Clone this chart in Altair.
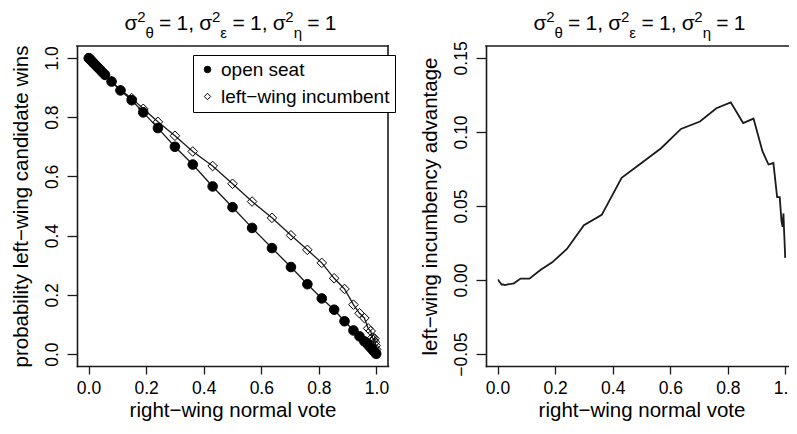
import altair as alt
import pandas as pd

# ---------------- data ----------------
x_vote = [0.001, 0.003, 0.006, 0.010, 0.014, 0.019, 0.025, 0.032, 0.040, 0.048,
          0.057, 0.080, 0.111, 0.150, 0.190, 0.241, 0.300, 0.362, 0.431, 0.500,
          0.568, 0.637, 0.703, 0.760, 0.810, 0.853, 0.889, 0.920, 0.941, 0.958,
          0.971, 0.980, 0.986, 0.990, 0.993, 0.995, 0.997, 0.999]
open_seat = [0.999, 0.997, 0.994, 0.990, 0.986, 0.981, 0.975, 0.968, 0.960, 0.952,
             0.943, 0.920, 0.890, 0.857, 0.816, 0.763, 0.700, 0.640, 0.566, 0.496,
             0.426, 0.358, 0.294, 0.236, 0.188, 0.150, 0.111, 0.080, 0.060, 0.043,
             0.031, 0.022, 0.016, 0.011, 0.008, 0.006, 0.004, 0.001]
incumbent = [0.999, 0.997, 0.993, 0.988, 0.983, 0.978, 0.972, 0.965, 0.957, 0.950,
             0.941, 0.921, 0.891, 0.864, 0.828, 0.784, 0.737, 0.684, 0.635, 0.575,
             0.515, 0.460, 0.401, 0.352, 0.308, 0.256, 0.220, 0.167, 0.138, 0.122,
             0.087, 0.078, 0.056, 0.047, 0.053, 0.040, 0.029, 0.016]
advantage = [0.000, 0.000, -0.001, -0.002, -0.003, -0.003, -0.0034, -0.003, -0.0027, -0.0025,
             -0.0022, 0.001, 0.001, 0.007, 0.012, 0.021, 0.037, 0.044, 0.069, 0.079,
             0.089, 0.102, 0.107, 0.116, 0.120, 0.106, 0.109, 0.087, 0.078, 0.079,
             0.056, 0.056, 0.040, 0.036, 0.045, 0.034, 0.025, 0.015]
series_names = ["open seat", "left\u2212wing incumbent"]
x_ticks = [0.0, 0.2, 0.4, 0.6, 0.8, 1.0]
y_ticks_left = [0.0, 0.2, 0.4, 0.6, 0.8, 1.0]
y_ticks_right = [-0.05, 0.0, 0.05, 0.10, 0.15]
x_title = "right\u2212wing normal vote"
y_title_left = "probability left\u2212wing candidate wins"
y_title_right = "left\u2212wing incumbency advantage"
title_tokens = [("σ", "main"), ("2", "sup"), ("θ", "sub"), (" ", "main"), ("=", "main"),
                (" ", "main"), ("1,", "main"), (" ", "main"),
                ("σ", "main"), ("2", "sup"), ("ε", "sub"), (" ", "main"), ("=", "main"),
                (" ", "main"), ("1,", "main"), (" ", "main"),
                ("σ", "main"), ("2", "sup"), ("η", "sub"), (" ", "main"), ("=", "main"),
                (" ", "main"), ("1", "main")]

# ---------------- layout / styling ----------------
FONT = "Liberation Sans"
INK = "#1a1a1a"
PW, PH = 311, 320          # one panel's plot area
RX = 409                   # left edge of the right panel inside the shared plot group
TOTAL_W = 712              # drawing group width (page is 797 wide, 8px margins)
LBL = 17.5
TTL = 20.5

df_left = pd.DataFrame({
    "x": x_vote * 2,
    "p": open_seat + incumbent,
    "series": [series_names[0]] * len(x_vote) + [series_names[1]] * len(x_vote),
})
df_right = pd.DataFrame({"x": x_vote, "adv": advantage})
one = pd.DataFrame({"k": [0]})


def x_axis():
    return alt.Axis(values=x_ticks, format=".1f", title=x_title, grid=False, orient="bottom",
                    tickSize=8, tickWidth=1.3, tickColor=INK, labelPadding=5,
                    minExtent=30.5, maxExtent=30.5, titlePadding=3.5,
                    labelFlush=False, labelOverlap=False,
                    domainColor=INK, domainWidth=1.6, domainCap="square",
                    labelFont=FONT, labelFontSize=LBL, labelColor="black",
                    titleFont=FONT, titleFontSize=TTL, titleFontWeight="normal",
                    titleColor="black")


def y_axis(values, fmt, title, offset):
    return alt.Axis(values=values, format=fmt, title=title, grid=False, orient="left",
                    offset=offset,
                    tickSize=10, tickWidth=1.3, tickColor=INK, labelPadding=6,
                    labelAngle=270, labelAlign="center", labelBaseline="bottom",
                    minExtent=34, maxExtent=34, titlePadding=12,
                    labelFlush=False, labelOverlap=False,
                    domainColor=INK, domainWidth=1.6, domainCap="square",
                    labelFont=FONT, labelFontSize=LBL, labelColor="black",
                    titleFont=FONT, titleFontSize=TTL, titleFontWeight="normal",
                    titleColor="black")


char_w = {"σ": 0.60, "θ": 0.556, "ε": 0.46, "η": 0.556, "2": 0.556, "1": 0.556,
          " ": 0.25, "=": 0.584, ",": 0.278}
fsize = {"main": 21, "sup": 15, "sub": 15}
fbase = {"main": -16, "sup": -24, "sub": -8}


def title_layers(x_left, width):
    total = sum(sum(char_w[c] for c in t) * fsize[k] for t, k in title_tokens)
    cur = x_left + width / 2 - total / 2 - 2
    layers = []
    for t, k in title_tokens:
        adv = sum(char_w[c] for c in t) * fsize[k]
        if t.strip():
            layers.append(
                alt.Chart(one).mark_text(align="left", baseline="alphabetic", font=FONT,
                                         fontSize=fsize[k], color="black")
                .encode(x=alt.value(cur), y=alt.value(fbase[k]), text=alt.value(t))
            )
        cur += adv
    return layers


def hrule(x1, x2, y):
    return alt.Chart(one).mark_rule(color=INK, strokeWidth=1.6, strokeCap="square").encode(
        x=alt.value(x1), x2=alt.value(x2), y=alt.value(y))


def vrule(x, y1, y2):
    return alt.Chart(one).mark_rule(color=INK, strokeWidth=1.6, strokeCap="square").encode(
        x=alt.value(x), y=alt.value(y1), y2=alt.value(y2))


# ---------------- left panel ----------------
xs_left = alt.Scale(domain=[-0.04, 1.04], range=[0, PW], nice=False, zero=False)
ys_left = alt.Scale(domain=[-0.04, 1.04], nice=False, zero=False)
leg = alt.Legend(title=None, orient="none", legendX=116, legendY=9,
                 strokeColor="black", fillColor="white", padding=5,
                 labelFont=FONT, labelFontSize=19, labelColor="black", labelLimit=400,
                 symbolSize=42, symbolStrokeColor="black", symbolStrokeWidth=1,
                 rowPadding=7, labelOffset=4, cornerRadius=0)

x_left_axis = x_axis()
y_left_axis = y_axis(y_ticks_left, ".1f", y_title_left, 0)

lines_left = alt.Chart(df_left).mark_line(color=INK, strokeWidth=1.3).encode(
    x=alt.X("x:Q", scale=xs_left, axis=x_left_axis),
    y=alt.Y("p:Q", scale=ys_left, axis=y_left_axis),
    detail="series:N",
)
points_left = alt.Chart(df_left).mark_point(strokeWidth=1, size=92, opacity=1).encode(
    x=alt.X("x:Q", scale=xs_left, axis=x_left_axis),
    y=alt.Y("p:Q", scale=ys_left, axis=y_left_axis),
    shape=alt.Shape("series:N", scale=alt.Scale(domain=series_names, range=["circle", "diamond"]), legend=leg),
    fill=alt.Fill("series:N", scale=alt.Scale(domain=series_names, range=["black", "transparent"]), legend=leg),
    stroke=alt.Stroke("series:N", scale=alt.Scale(domain=series_names, range=["black", "black"]), legend=leg),
)
left = alt.layer(lines_left, points_left)

# ---------------- right panel ----------------
xs_right = alt.Scale(domain=[-0.04, 1.04], range=[RX, RX + PW], nice=False, zero=False)
ys_right = alt.Scale(domain=[-0.058, 0.158], nice=False, zero=False)
right = alt.Chart(df_right).mark_line(color=INK, strokeWidth=1.8).encode(
    x=alt.X("x:Q", scale=xs_right, axis=x_axis()),
    y=alt.Y("adv:Q", scale=ys_right, axis=y_axis(y_ticks_right, ".2f", y_title_right, -RX)),
)

decor = [hrule(0, PW, 0), vrule(PW, 0, PH), hrule(RX, RX + PW, 0)]
decor += title_layers(0, PW) + title_layers(RX, PW)

chart = (
    alt.layer(left, right, *decor)
    .resolve_scale(x="independent", y="independent")
    .resolve_axis(x="independent", y="independent")
    .properties(width=TOTAL_W, height=PH,
                autosize=alt.AutoSizeParams(type="none"),
                padding={"left": 69, "top": 38, "right": 0, "bottom": 55})
    .configure_view(stroke=None)
)

chart.save("out.html", embed_options={"renderer": "svg", "actions": False})
